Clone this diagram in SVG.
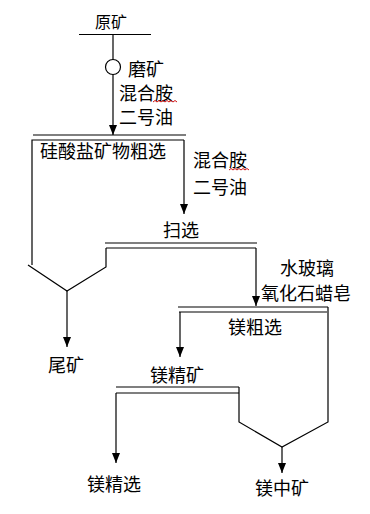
<svg xmlns="http://www.w3.org/2000/svg" width="370" height="514" viewBox="0 0 370 514">
<style>
.t{font-family:"Noto Sans CJK SC","Noto Sans",sans-serif;font-size:18px;fill:#000}
.l{stroke:#000;stroke-width:1.2;fill:none}
.a{stroke:#000;stroke-width:1.2;fill:none;marker-end:url(#ah)}
.sq{stroke:#d01010;stroke-width:1;fill:none}
</style>
<defs>
<marker id="ah" markerWidth="10" markerHeight="8" refX="10" refY="4" orient="auto" markerUnits="userSpaceOnUse" viewBox="0 0 10 8">
<path d="M0,0 L10,4 L0,8 Z" fill="#000"/>
</marker>
</defs>
<rect width="370" height="514" fill="#fff"/>
<g id="feed">
<text class="t" x="95" y="28" style="font-size:16px">原矿</text>
<line class="l" x1="79" y1="34.5" x2="151" y2="34.5"/>
</g>
<g id="grinding">
<text class="t" x="128" y="76">磨矿</text>
<text class="t" x="119" y="100">混合胺</text>
<path class="sq" d="M153,102 l2,-1.5 l2,1.5 l2,-1.5 l2,1.5 l2,-1.5 l2,1.5 l2,-1.5 l2,1.5 l2,-1.5 l2,1.5 l2,-1.5 l2,1.5"/>
<text class="t" x="119" y="124">二号油</text>
</g>
<g id="silicate-rougher">
<line class="l" x1="33" y1="135" x2="186" y2="135"/>
<polyline class="l" points="32,265 32,140 184,140"/>
<text class="t" x="40" y="158">硅酸盐矿物粗选</text>
</g>
<g id="reagents2">
<text class="t" x="193" y="167">混合胺</text>
<path class="sq" d="M229,170 l2,-1.5 l2,1.5 l2,-1.5 l2,1.5 l2,-1.5 l2,1.5 l2,-1.5 l2,1.5 l2,-1.5 l2,1.5"/>
<text class="t" x="193" y="194">二号油</text>
</g>
<g id="scavenger">
<text class="t" x="163" y="237">扫选</text>
<line class="l" x1="105" y1="243" x2="257" y2="243"/>
<line class="l" x1="106" y1="248" x2="256" y2="248"/>
<polyline class="l" points="106,248 106,267 67,291 28,265"/>
</g>
<g id="tailings">
<text class="t" x="48" y="372">尾矿</text>
</g>
<g id="reagents3">
<text class="t" x="280" y="275">水玻璃</text>
<text class="t" x="261" y="300">氧化石蜡皂</text>
</g>
<g id="mg-rougher">
<line class="l" x1="178" y1="307" x2="328" y2="307"/>
<line class="l" x1="179" y1="312" x2="327" y2="312"/>
<text class="t" x="228" y="334">镁粗选</text>
</g>
<g id="mg-concentrate">
<text class="t" x="150" y="382">镁精矿</text>
<line class="l" x1="116" y1="387" x2="239" y2="387"/>
<line class="l" x1="116" y1="393" x2="239" y2="393"/>
<polyline class="l" points="239,387 239,422 282,447 328,422 328,307"/>
</g>
<g id="mg-cleaner">
<text class="t" x="87" y="491">镁精选</text>
</g>
<g id="mg-middling">
<text class="t" x="255" y="495">镁中矿</text>
</g>
<g id="connectors">
<line class="a" x1="113" y1="34.5" x2="113" y2="135"/>
<circle cx="113" cy="67" r="7.5" fill="#fff" stroke="#000" stroke-width="1.2"/>
<line class="a" x1="184" y1="140" x2="184" y2="214"/>
<line class="a" x1="256" y1="248" x2="256" y2="306"/>
<line class="a" x1="67" y1="291" x2="67" y2="347"/>
<line class="a" x1="180" y1="312" x2="180" y2="357"/>
<line class="a" x1="116" y1="393" x2="116" y2="463"/>
<line class="a" x1="282" y1="447" x2="282" y2="473"/>
</g>
</svg>
